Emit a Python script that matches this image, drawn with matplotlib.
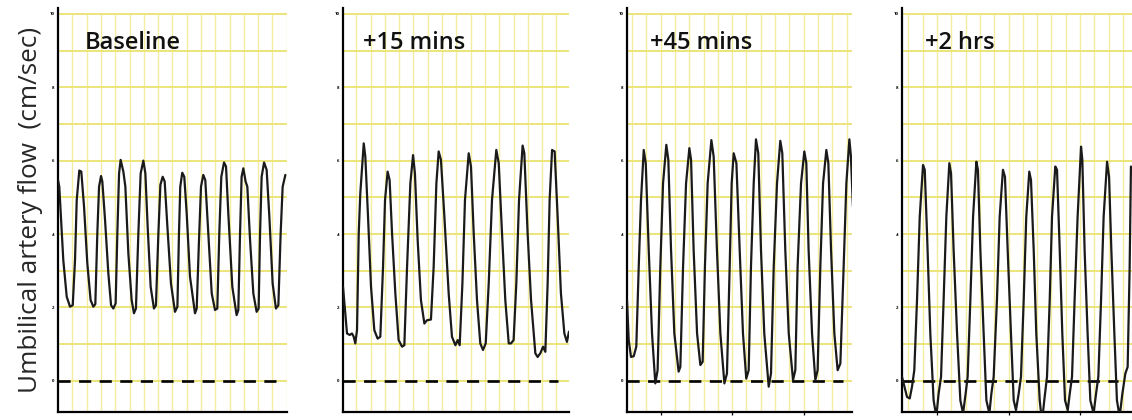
import matplotlib
matplotlib.use('Agg')
import matplotlib.pyplot as plt

plt.rcParams['font.family'] = ['Open Sans', 'DejaVu Sans']

# panel labels
titles = ['Baseline', '+15 mins', '+45 mins', '+2 hrs']
ylabel = 'Umbilical artery flow  (cm/sec)'

# waveform traces (x in grid squares, y in grid units)
t1 = [0, 0.09, 0.37, 0.61, 0.84, 1.03, 1.19, 1.31, 1.49, 1.63, 1.82, 2.05, 2.28, 2.47, 2.61, 2.75, 2.87, 3.01, 3.10,
      3.29, 3.52, 3.71, 3.87, 4.03, 4.15, 4.27, 4.38, 4.57, 4.71, 4.92, 5.15, 5.31, 5.45, 5.62, 5.78, 5.97, 6.11, 6.27,
      6.48, 6.71, 6.85, 7.02, 7.16, 7.32, 7.46, 7.65, 7.90, 8.18, 8.35, 8.46, 8.55, 8.69, 8.83, 9.00, 9.23, 9.58, 9.70,
      9.86, 10.00, 10.16, 10.30, 10.51, 10.75, 10.98, 11.14, 11.28, 11.42, 11.61, 11.75, 11.91, 12.19, 12.49, 12.61,
      12.73, 12.84, 12.96, 13.12, 13.24, 13.43, 13.66, 13.89, 14.03, 14.13, 14.24, 14.41, 14.59, 14.78, 15.01, 15.24,
      15.41, 15.57, 15.71, 15.90]
v1 = [5.47, 5.29, 3.29, 2.29, 2.02, 2.06, 3.29, 4.93, 5.73, 5.70, 4.75, 3.20, 2.20, 2.02, 2.09, 4.02, 5.29, 5.58, 5.43,
      4.38, 2.93, 2.06, 1.97, 2.11, 4.02, 5.65, 6.02, 5.70, 5.29, 3.47, 2.20, 1.84, 1.97, 4.02, 5.65, 6.00, 5.65, 4.20,
      2.56, 1.97, 2.06, 4.02, 5.34, 5.56, 5.43, 4.20, 2.65, 1.88, 2.02, 4.02, 5.29, 5.67, 5.56, 4.56, 2.84, 1.84, 1.97,
      3.84, 5.29, 5.61, 5.47, 4.02, 2.38, 1.93, 1.97, 4.02, 5.56, 5.95, 5.84, 4.56, 2.56, 1.79, 1.93,
      4.02, 5.56, 5.79, 5.43, 5.29, 3.84, 2.38, 1.88, 1.97, 4.02, 5.56, 5.95, 5.75, 4.47, 2.65, 1.97,
      2.06, 4.02, 5.29, 5.61]

t2 = [0, 0.16, 0.28, 0.47, 0.63, 0.75, 0.86, 0.98, 1.10, 1.21, 1.45, 1.56, 1.75, 1.96, 2.19, 2.42, 2.61, 2.80, 2.94,
      3.12, 3.26, 3.43, 3.66, 3.89, 4.13, 4.29, 4.48, 4.71, 4.90, 5.03, 5.22, 5.45, 5.69, 5.87, 6.15, 6.34, 6.53, 6.69,
      6.85, 7.09, 7.39, 7.62, 7.86, 8.02, 8.16, 8.35, 8.53, 8.79, 8.95, 9.14, 9.37, 9.60, 9.79, 9.98, 10.19, 10.42,
      10.72, 10.89, 11.12, 11.35, 11.59, 11.75, 11.93, 12.12, 12.31, 12.56, 12.68, 12.91, 13.15, 13.45, 13.61, 13.80,
      13.99, 14.15, 14.31, 14.45, 14.62, 14.80, 15.01, 15.24, 15.48, 15.66, 15.80]
v2 = [2.56, 1.84, 1.29, 1.25, 1.29, 1.20, 1.02, 1.38, 4.02, 5.11, 6.47, 6.11, 4.47, 2.56, 1.38, 1.15, 1.20, 3.11, 4.93,
      5.70, 5.47, 4.02, 2.38, 1.11, 0.93, 0.97, 3.11, 5.38, 6.15, 5.65, 3.84, 2.20, 1.56, 1.65, 1.67, 3.11, 5.38, 6.25,
      6.02, 4.47, 2.38, 1.20, 0.97, 1.11, 0.97, 2.65, 4.93, 6.20, 5.84, 4.02, 2.20, 1.02, 0.84, 1.02, 2.65, 4.93,
      6.29, 5.93, 4.02, 2.20, 1.02, 1.02, 1.11, 2.65, 4.93, 6.41, 6.20, 4.02, 2.20, 0.75, 0.65, 0.75,
      0.93, 0.79, 2.65, 4.93, 6.29, 6.25, 4.47, 2.38, 1.29, 1.06, 1.34]

t3 = [0, 0.12, 0.28, 0.47, 0.65, 0.82, 0.98, 1.17, 1.31, 1.52, 1.75, 1.98, 2.14, 2.33, 2.52, 2.75, 2.89, 3.08, 3.31,
      3.61, 3.73, 3.92, 4.13, 4.36, 4.48, 4.66, 4.90, 5.13, 5.29, 5.45, 5.64, 5.90, 6.06, 6.29, 6.53, 6.81, 6.99, 7.18,
      7.32, 7.46, 7.65, 7.88, 8.11, 8.34, 8.51, 8.67, 8.86, 9.02, 9.18, 9.37, 9.60, 9.91, 10.07, 10.26, 10.49, 10.72,
      10.86, 11.07, 11.31, 11.61, 11.77, 11.93, 12.17, 12.40, 12.54, 12.70, 12.94, 13.17, 13.33, 13.52, 13.71, 13.94,
      14.08, 14.27, 14.50, 14.73, 14.92, 15.15, 15.34, 15.55, 15.66, 15.80]
v3 = [2.20, 1.11, 0.65, 0.67, 0.93, 3.11, 4.93, 6.29, 5.93, 3.56, 1.29, -0.07, 0.29, 3.11, 5.38, 6.43, 6.02, 3.56, 1.29,
      0.25, 0.38, 3.11, 5.38, 6.34, 6.02, 3.56, 1.29, 0.43, 0.52, 3.11, 5.38, 6.56, 6.11, 3.56, 1.29, -0.07, 0.20, 3.11,
      5.38, 6.20, 5.93, 3.56, 1.29, 0.06, 0.29, 3.11, 5.38, 6.58, 6.20, 3.56, 1.29, -0.16, 0.20, 3.11, 5.38, 6.54,
      6.20, 3.56, 1.29, 0.02, 0.29, 3.11, 5.38, 6.25, 5.93, 3.56, 1.29, 0.02, 0.29, 3.11, 5.38, 6.29,
      5.93, 3.56, 1.29, 0.29, 0.47, 3.11, 5.38, 6.58, 6.11, 4.75]

t4 = [0, 0.35, 0.54, 0.70, 0.86, 1.05, 1.24, 1.47, 1.59, 1.75, 1.98, 2.21, 2.40, 2.56, 2.73, 2.91, 3.10, 3.31, 3.43,
      3.61, 3.85, 4.08, 4.27, 4.45, 4.59, 4.78, 4.97, 5.20, 5.31, 5.48, 5.71, 5.90, 6.11, 6.25, 6.41, 6.64, 6.83, 7.06,
      7.20, 7.39, 7.62, 7.81, 7.97, 8.16, 8.32, 8.51, 8.69, 8.90, 9.02, 9.21, 9.39, 9.63, 9.79, 9.95, 10.14, 10.33,
      10.49, 10.72, 10.84, 11.03, 11.21, 11.40, 11.59, 11.73, 11.89, 12.07, 12.28, 12.52, 12.61, 12.77, 12.98, 13.17,
      13.40, 13.57, 13.73, 13.92, 14.10, 14.34, 14.48, 14.64, 14.85, 15.03, 15.22, 15.41, 15.62, 15.78, 15.92, 16.01]
v4 = [0.11, -0.44, -0.48, -0.16, 0.29, 2.20, 4.47, 5.88, 5.75, 4.02, 1.29, -0.53, -0.98, -0.35, 0.11, 2.20, 4.47, 5.93,
      5.65, 3.56, 1.29, -0.53, -0.89, -0.35, 0.11, 2.20, 4.47, 5.97, 5.75, 3.56, 1.29, -0.53, -0.89, -0.35, 0.11, 2.20,
      4.47, 5.75, 5.56, 3.56, 1.29, -0.53, -0.80, -0.35, 0.11, 2.20, 4.47, 5.70, 5.47, 3.56, 1.29, -0.53, -1.12, -0.53,
      0.11, 2.20, 4.47, 5.84, 5.75, 3.56, 1.29, -0.53, -0.80, -0.35, 0.11, 2.20, 4.47, 6.38, 6.02, 3.56, 1.29, -0.53,
      -0.89, -0.35, 0.11, 2.20, 4.47, 5.97, 5.56, 3.56, 1.29, -0.53, -0.98, -0.35, 0.20, 0.38, 3.11, 5.84]

times = [t1, t2, t3, t4]
flows = [v1, v2, v3, v4]

x_max = [16.0, 15.8, 15.75, 16.1]      # width of each strip in grid squares
grid_off = [0.0, 0.93, 0.35, 0.45]     # where the vertical paper lines start
dash_end = [15.3, 15.0, 15.1, 15.1]    # end of the zero-flow dashed line
title_x = [1.9, 1.4, 1.6, 1.6]
x_ticks = [[], [], [2.35, 7.35, 12.35], [2.45, 7.45, 12.45]]
y_ticks = [0, 2, 4, 6, 8, 10]
y_ticklabels = ['0', '2', '4', '6', '8', '10']

fig = plt.figure(figsize=(11.32, 4.2), dpi=100)
lefts = [58, 343, 627, 902]
px = 14.3  # pixels per grid square

for i in range(4):
    ax = fig.add_axes([lefts[i] / 1132, 8 / 420, x_max[i] * px / 1132, 400 / 420])
    ax.set_xlim(0, x_max[i])
    ax.set_ylim(-0.85, 10.05)

    # paper grid
    k = grid_off[i] if grid_off[i] > 0 else 1.0
    vl = []
    while k <= x_max[i] + 0.01:
        vl.append(k)
        k += 1
    ax.vlines(vl, -0.85, 10.0, colors='#f2eda0', lw=1.0, zorder=0)
    ax.hlines(range(0, 11), 0, x_max[i], colors='#ece47a', lw=1.4, zorder=0)

    ax.plot(times[i], flows[i], color='#1a1a1a', lw=1.6, zorder=3,
            solid_joinstyle='round', solid_capstyle='round')
    ax.plot([0, dash_end[i]], [0, 0], color='black', lw=1.9, ls=(0, (4.6, 3.2)), zorder=2)

    ax.text(title_x[i], 9.2, titles[i], fontsize=17, fontweight='semibold',
            va='center', ha='left', color='#111111', zorder=4)

    for s in ['top', 'right']:
        ax.spines[s].set_visible(False)
    ax.spines['left'].set_linewidth(1.6)
    ax.spines['bottom'].set_linewidth(1.6)
    ax.spines['left'].set_bounds(-0.85, 10.15)

    ax.set_yticks(y_ticks)
    ax.set_yticklabels(y_ticklabels, fontsize=3.2, fontweight='bold')
    ax.tick_params(axis='y', length=0, pad=2.5)
    ax.set_xticks(x_ticks[i])
    ax.set_xticklabels([])
    ax.tick_params(axis='x', length=2.5, width=0.9, direction='out')
    ax.patch.set_alpha(0)

fig.text(0.027, 0.50, ylabel, rotation=90, fontsize=18.8, va='center', ha='center', color='#262626')

fig.savefig('out.png', dpi=100, facecolor='white')
